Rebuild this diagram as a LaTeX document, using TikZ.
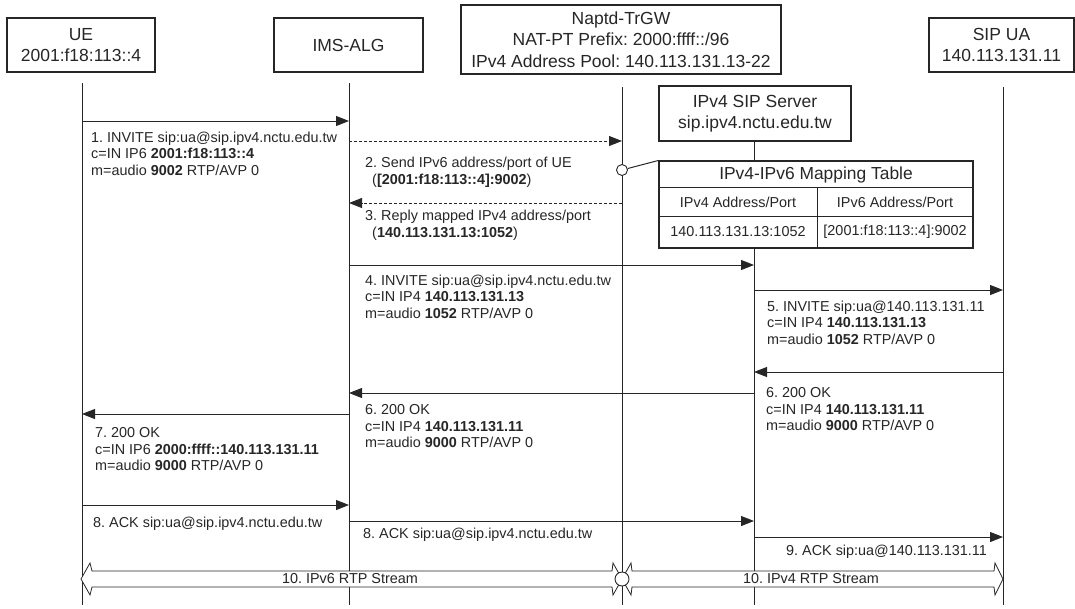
\documentclass[tikz,border=0pt]{standalone}
\usepackage{fontspec}
\setmainfont{Liberation Sans}
\usetikzlibrary{arrows.meta}
\definecolor{ink}{HTML}{262626}
\frenchspacing
\begin{document}
\begin{tikzpicture}[x=1pt,y=-1pt,
  actor/.style={draw=ink, line width=1.1pt, align=center, inner sep=0pt, text=ink,
    font=\fontsize{17.5}{21.5}\selectfont},
  life/.style={draw=ink, line width=1pt},
  msgarrow/.style={draw=ink, line width=1pt, -{Triangle[length=13pt,width=10pt]}},
  dasharrow/.style={msgarrow, line width=0.8pt, dash pattern=on 3pt off 2pt},
  msgtext/.style={anchor=north west, inner sep=0pt, align=left, text=ink,
    font=\fontsize{14.4}{16.6}\selectfont},
  celltext/.style={inner sep=0pt, text=ink, font=\fontsize{14.4}{16.6}\selectfont},
  stream/.style={draw=ink, line width=0.8pt, fill=white},
  joint/.style={circle, draw=ink, line width=0.9pt, fill=white, inner sep=0pt}
]
\useasboundingbox (0,0) rectangle (1075,608);

% ---------- participants ----------
\node[actor, minimum width=148pt, minimum height=54pt] (ue)  at (81,45)   {UE\\2001:f18:113::4};
\node[actor, minimum width=149pt, minimum height=54pt] (alg) at (348.5,45) {IMS-ALG};
\node[actor, minimum width=320pt, minimum height=69pt] (gw)  at (621,39.5)
  {Naptd-TrGW\\NAT-PT Prefix: 2000:ffff::/96\\IPv4 Address Pool: 140.113.131.13-22};
\node[actor, minimum width=145pt, minimum height=54pt] (ua)  at (1001.5,45) {SIP UA\\140.113.131.11};
\node[actor, minimum width=192pt, minimum height=55pt, font=\fontsize{17.5}{20.5}\selectfont] (srv) at (755,113.5)
  {IPv4 SIP Server\\sip.ipv4.nctu.edu.tw};

% ---------- mapping table ----------
\node[draw=ink, line width=1.1pt, minimum width=314pt, minimum height=87pt, inner sep=0pt] (tbl) at (816,204.5) {};
\draw[draw=ink, line width=1pt] (tbl.west |- 0,187) -- (tbl.east |- 0,187);
\draw[draw=ink, line width=1pt] (tbl.west |- 0,216) -- (tbl.east |- 0,216);
\draw[draw=ink, line width=1pt] (817,187) -- (817,248);
\node[inner sep=0pt, text=ink, font=\fontsize{17.4}{20}\selectfont] (ttitle) at (816,174.5) {IPv4-IPv6 Mapping Table};
\node[celltext] (th4) at (738,202) {IPv4 Address/Port};
\node[celltext] (th6) at (895,202) {IPv6 Address/Port};
\node[celltext] (td4) at (738,232) {140.113.131.13:1052};
\node[celltext] (td6) at (895,232) {[2001:f18:113::4]:9002};

% ---------- lifelines ----------
\coordinate (ueT)  at (82,83);   \coordinate (ueB)  at (82,605);
\coordinate (algT) at (349,83);  \coordinate (algB) at (349,605);
\coordinate (gwT)  at (622,87);  \coordinate (gwB)  at (622,605);
\coordinate (uaT)  at (1003,87); \coordinate (uaB)  at (1003,605);
\coordinate (srvT) at (754,141); \coordinate (srvM) at (754,161);
\coordinate (srvN) at (754,248); \coordinate (srvB) at (754,605);
\draw[life] (ueT) -- (ueB);
\draw[life] (algT) -- (algB);
\draw[life] (gwT) -- (gwB);
\draw[life] (uaT) -- (uaB);
\draw[life] (srvT) -- (srvM);
\draw[life] (srvN) -- (srvB);

% gateway consults its mapping table
\node[joint, minimum size=11pt] (gwc) at (622,170) {};
\draw[draw=ink, line width=1pt] (gwc) -- (tbl.north west);

% ---------- message end points ----------
\coordinate (ue1) at (82,121);   \coordinate (alg1) at (349,121);
\coordinate (alg2) at (349,141); \coordinate (gw2) at (622,141);
\coordinate (gw3) at (622,203);  \coordinate (alg3) at (349,203);
\coordinate (alg4) at (349,265); \coordinate (srv4) at (754,265);
\coordinate (srv5) at (754,290); \coordinate (ua5) at (1003,290);
\coordinate (ua6) at (1003,372); \coordinate (srv6) at (754,372);
\coordinate (srv6b) at (754,393); \coordinate (alg6) at (349,393);
\coordinate (alg7) at (349,414); \coordinate (ue7) at (82,414);
\coordinate (ue8) at (82,505);   \coordinate (alg8) at (349,505);
\coordinate (alg8b) at (349,521); \coordinate (srv8) at (754,521);
\coordinate (srv9) at (754,537); \coordinate (ua9) at (1003,537);

% ---------- messages ----------
\draw[msgarrow]  (ue1) -- (alg1);
\draw[dasharrow] (alg2) -- (gw2);
\draw[dasharrow] (gw3) -- (alg3);
\draw[msgarrow]  (alg4) -- (srv4);
\draw[msgarrow]  (srv5) -- (ua5);
\draw[msgarrow]  (ua6) -- (srv6);
\draw[msgarrow]  (srv6b) -- (alg6);
\draw[msgarrow]  (alg7) -- (ue7);
\draw[msgarrow]  (ue8) -- (alg8);
\draw[msgarrow]  (alg8b) -- (srv8);
\draw[msgarrow]  (srv9) -- (ua9);

\node[msgtext] (m1) at (91,131.5) {1. INVITE sip:ua@sip.ipv4.nctu.edu.tw\\c=IN IP6 \textbf{2001:f18:113::4}\\m=audio \textbf{9002} RTP/AVP 0};
\node[msgtext] (m2) at (365,157) {2. Send IPv6 address/port of UE\\\hspace*{7pt}(\textbf{[2001:f18:113::4]:9002})};
\node[msgtext] (m3) at (365,210) {3. Reply mapped IPv4 address/port\\\hspace*{7pt}(\textbf{140.113.131.13:1052})};
\node[msgtext] (m4) at (365,274.5) {4. INVITE sip:ua@sip.ipv4.nctu.edu.tw\\c=IN IP4 \textbf{140.113.131.13}\\m=audio \textbf{1052} RTP/AVP 0};
\node[msgtext] (m5) at (767,300.5) {5. INVITE sip:ua@140.113.131.11\\c=IN IP4 \textbf{140.113.131.13}\\m=audio \textbf{1052} RTP/AVP 0};
\node[msgtext] (m6r) at (766,387.5) {6. 200 OK\\c=IN IP4 \textbf{140.113.131.11}\\m=audio \textbf{9000} RTP/AVP 0};
\node[msgtext] (m6l) at (365,404.5) {6. 200 OK\\c=IN IP4 \textbf{140.113.131.11}\\m=audio \textbf{9000} RTP/AVP 0};
\node[msgtext] (m7) at (95,427.5) {7. 200 OK\\c=IN IP6 \textbf{2000:ffff::140.113.131.11}\\m=audio \textbf{9000} RTP/AVP 0};
\node[msgtext] (m8a) at (93,516.5) {8. ACK sip:ua@sip.ipv4.nctu.edu.tw};
\node[msgtext] (m8b) at (363,527.5) {8. ACK sip:ua@sip.ipv4.nctu.edu.tw};
\node[msgtext, anchor=north east] (m9) at (987,544.5) {9. ACK sip:ua@140.113.131.11};

% ---------- media streams ----------
\draw[stream] (81,579) -- (90,563) -- (92,571) -- (612,571) -- (613,563) -- (622,579)
  -- (613,595) -- (612,587) -- (92,587) -- (90,595) -- cycle;
\draw[stream] (622,579) -- (631,563) -- (632,571) -- (994,571) -- (995,563) -- (1003,579)
  -- (995,595) -- (994,587) -- (632,587) -- (631,595) -- cycle;
\node[joint, minimum size=14pt] (sc) at (622,579) {};
\node[celltext] (s6) at (350,579) {10. IPv6 RTP Stream};
\node[celltext] (s4) at (811,579) {10. IPv4 RTP Stream};
\end{tikzpicture}
\end{document}
